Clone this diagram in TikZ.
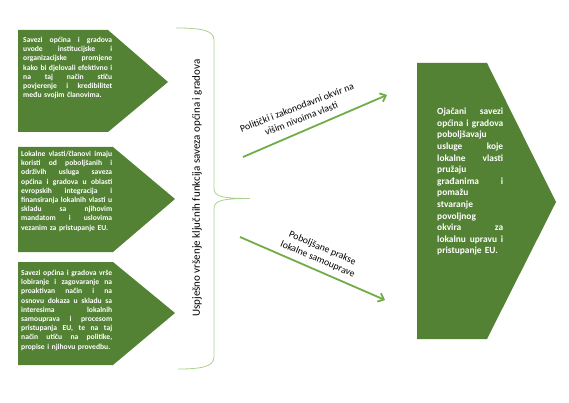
\documentclass[tikz,border=0pt]{standalone}
\usepackage{fontspec}
\setmainfont{Carlito}
\usetikzlibrary{arrows.meta}
\definecolor{boxgreen}{HTML}{548235}
\definecolor{arrowgreen}{HTML}{70AD47}
\definecolor{bracegreen}{HTML}{A9D18E}
\newlength\jw
\newcommand{\JL}[1]{\makebox[\jw][s]{\spaceskip=0pt\xspaceskip=0pt\relax#1}\\}
\tikzset{
  pentabox/.style={fill=boxgreen},
  boxtext/.style={anchor=north west, inner sep=0pt, text=white, align=left,
    font=\fontsize{7.6}{9.2}\selectfont\bfseries},
  bigtext/.style={anchor=north west, inner sep=0pt, text=white, align=left,
    font=\fontsize{9.4}{11.6}\selectfont\bfseries},
  flowarrow/.style={draw=arrowgreen, line width=1.8pt, -{Straight Barb[length=5pt,width=9pt,line width=1.8pt]}},
  arrowlabel/.style={align=center, inner sep=0pt, font=\fontsize{9.8}{12}\selectfont},
  bracestyle/.style={draw=bracegreen, line width=0.8pt}
}
\begin{document}
\begin{tikzpicture}[x=1pt,y=-1pt]
\useasboundingbox (0,0) rectangle (569,403);
% left pentagons
\fill[pentabox] (18,30) -- (108,30) -- (168,82) -- (108,132) -- (18,132) -- cycle;
\fill[pentabox] (18,147) -- (113,147) -- (175,199) -- (113,252) -- (18,252) -- cycle;
\fill[pentabox] (18,262) -- (113,262) -- (175,313) -- (113,365) -- (18,365) -- cycle;
% right pentagon
\fill[pentabox] (417,63) -- (487,63) -- (556,202) -- (487,339) -- (417,339) -- cycle;

\node[boxtext, text width=100pt] (t1) at (23,37) {\setlength\jw{89pt}%
\JL{Savezi općina i gradova}
\JL{uvode institucijske i}
\JL{organizacijske promjene}
\JL{kako bi djelovali efektivno i}
\JL{na taj način stiču}
\JL{povjerenje i kredibilitet}
\mbox{među svojim članovima.}};

\node[boxtext, text width=100pt] (t2) at (21,151) {\setlength\jw{91pt}%
\JL{Lokalne vlasti/članovi imaju}
\JL{koristi od poboljšanih i}
\JL{održivih usluga saveza}
\JL{općina i gradova u oblasti}
\JL{evropskih integracija i}
\JL{finansiranja lokalnih vlasti u}
\JL{skladu sa njihovim}
\JL{mandatom i uslovima}
\mbox{vezanim za pristupanje EU.}};

\node[boxtext, text width=100pt] (t3) at (21,270) {\setlength\jw{91pt}%
\JL{Savezi općina i gradova vrše}
\JL{lobiranje i zagovaranje na}
\JL{proaktivan način i na}
\JL{osnovu dokaza u skladu sa}
\JL{interesima lokalnih}
\JL{samouprava i procesom}
\JL{pristupanja EU, te na taj}
\JL{način utiču na politike,}
\mbox{propise i njihovu provedbu.}};

\node[bigtext, text width=75pt] (t4) at (437,108) {\setlength\jw{66pt}%
\JL{Ojačani savezi}
\JL{općina i gradova}
poboljšavaju\\
\JL{usluge koje}
\JL{lokalne vlasti}
pružaju\\
\JL{građanima i}
pomažu\\
stvaranje\\
povoljnog\\
\JL{okvira za}
\JL{lokalnu upravu i}
pristupanje EU.};

% brace
\draw[bracestyle] (176,28) .. controls (200,28) and (214,30) .. (214,40)
  -- (214,188) .. controls (214,196) and (220,198.5) .. (250,198.5)
  .. controls (220,198.5) and (214,201) .. (214,209)
  -- (214,357) .. controls (214,367) and (200,369) .. (178,369);
\node[rotate=90, inner sep=0pt, font=\fontsize{11}{13}\selectfont] (brtext) at (197,188)
  {Uspješno vršenje ključnih funkcija saveza općina i gradova};

% arrows
\coordinate (a1s) at (243,157);
\coordinate (a1e) at (387,95);
\coordinate (a2s) at (240,237);
\coordinate (a2e) at (385,300);
\draw[flowarrow] (a1s) -- (a1e);
\draw[flowarrow] (a2s) -- (a2e);
\node[arrowlabel, rotate=21] (l1) at (299,113) {Politički i zakonodavni okvir na\\višim nivoima vlasti};
\node[arrowlabel, rotate=-23] (l2) at (320,254) {Poboljšane prakse\\lokalne samouprave};
\end{tikzpicture}
\end{document}
